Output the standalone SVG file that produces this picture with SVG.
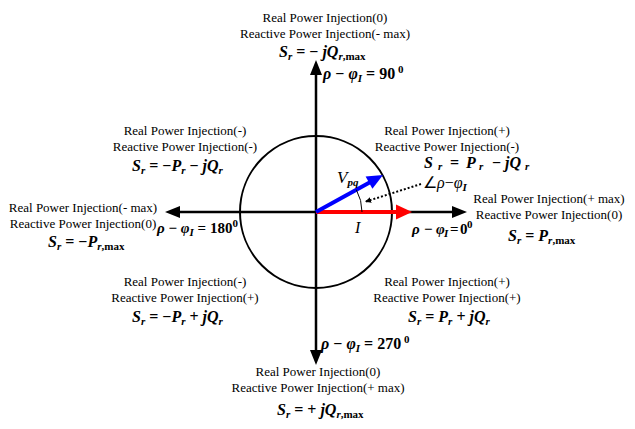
<svg xmlns="http://www.w3.org/2000/svg" width="635" height="429" viewBox="0 0 635 429">
<style>
.lbl{font-family:"Liberation Serif","Times New Roman",serif;font-size:13px;text-anchor:middle;fill:#000}
.eq{font-family:"Liberation Serif","Times New Roman",serif;font-size:16px;font-weight:bold;fill:#000}
.it{font-style:italic}
.sub{font-size:11px}
.axis{stroke:#000;stroke-width:2.5;fill:none}
</style>
<defs>
<marker id="ah" markerWidth="6" markerHeight="6" refX="5" refY="3" orient="auto" markerUnits="userSpaceOnUse">
<path d="M0,0 L6,3 L0,6 Z" fill="#000"/>
</marker>
</defs>
<rect width="635" height="429" fill="#fff"/>
<g id="connectors">
<line class="axis" x1="316" y1="74" x2="316" y2="351"/>
<polygon points="316,60 310,75 322,75" fill="#000"/>
<polygon points="316,365 310,350 322,350" fill="#000"/>
<line class="axis" x1="179" y1="212" x2="453" y2="212"/>
<polygon points="165,212 180,206 180,218" fill="#000"/>
<polygon points="467,212 452,206 452,218" fill="#000"/>
<circle cx="316" cy="212" r="76" fill="none" stroke="#000" stroke-width="2"/>
<line x1="316" y1="212" x2="398" y2="212" stroke="#f00" stroke-width="4"/>
<polygon points="396,204.5 412,212 396,219.5" fill="#f00"/>
<line x1="316" y1="212" x2="370" y2="182.2" stroke="#00f" stroke-width="4"/>
<polygon points="383,175 372.4,188.8 365.6,176.6" fill="#00f"/>
<path d="M362,212 A46,46 0 0 0 356.3,189.7" fill="none" stroke="#000" stroke-width="1"/>
<line x1="421" y1="184" x2="366" y2="201.5" stroke="#000" stroke-width="2" stroke-dasharray="2,2" marker-end="url(#ah)"/>
</g>
<g id="n-top">
<text class="lbl" x="325" y="22">Real Power Injection(0)</text>
<text class="lbl" x="325" y="38">Reactive Power Injection(- max)</text>
<text class="eq" x="279" y="57"><tspan class="it">S</tspan><tspan class="it sub" dy="3">r</tspan><tspan dy="-3"> = − </tspan><tspan class="it">jQ</tspan><tspan class="it sub" dy="3">r</tspan><tspan class="sub">,max</tspan></text>
<text class="eq" x="323" y="79"><tspan class="it">ρ</tspan> − <tspan class="it">φ</tspan><tspan class="it sub" dy="3">I</tspan><tspan dy="-3"> = 90</tspan><tspan class="sub" dy="-6"> 0</tspan></text>
</g>
<g id="n-upper-left">
<text class="lbl" x="185" y="135">Real Power Injection(-)</text>
<text class="lbl" x="185" y="151">Reactive Power Injection(-)</text>
<text class="eq" x="132" y="171"><tspan class="it">S</tspan><tspan class="it sub" dy="3">r</tspan><tspan dy="-3"> = −</tspan><tspan class="it">P</tspan><tspan class="it sub" dy="3">r</tspan><tspan dy="-3"> − </tspan><tspan class="it">jQ</tspan><tspan class="it sub" dy="3">r</tspan></text>
</g>
<g id="n-upper-right">
<text class="lbl" x="447" y="135">Real Power Injection(+)</text>
<text class="lbl" x="447" y="151">Reactive Power Injection(-)</text>
<text class="eq" y="168"><tspan class="it" x="424">S</tspan><tspan class="it sub" x="438" y="170">r</tspan><tspan x="450" y="168">=</tspan><tspan class="it" x="466">P</tspan><tspan class="it sub" x="479" y="170">r</tspan><tspan x="492" y="168">−</tspan><tspan class="it" x="505">jQ</tspan><tspan class="it sub" x="525" y="170">r</tspan></text>
</g>
<g id="n-angle">
<text class="eq it" x="337" y="183" style="font-weight:normal;font-size:17px">V<tspan style="font-weight:bold;font-size:11px" dy="3">pq</tspan></text>
<text class="eq" x="423" y="188" style="font-weight:normal">∠<tspan class="it">ρ</tspan>−<tspan class="it">φ</tspan><tspan class="it sub" dy="3" style="font-weight:bold">I</tspan></text>
<text class="eq it" x="355" y="233" style="font-weight:normal">I</text>
</g>
<g id="n-right">
<text class="lbl" x="549" y="203">Real Power Injection(+ max)</text>
<text class="lbl" x="549" y="219">Reactive Power Injection(0)</text>
<text class="eq" x="508" y="241"><tspan class="it">S</tspan><tspan class="it sub" dy="3">r</tspan><tspan dy="-3"> = </tspan><tspan class="it">P</tspan><tspan class="it sub" dy="3">r</tspan><tspan class="sub">,max</tspan></text>
<text class="eq" y="234" style="font-size:15px"><tspan class="it" x="412">ρ</tspan><tspan x="424">−</tspan><tspan class="it" x="436">φ</tspan><tspan class="it sub" x="444" y="237">I</tspan><tspan x="450" y="234">=</tspan><tspan x="460">0</tspan><tspan class="sub" x="467" y="228">0</tspan></text>
</g>
<g id="n-left">
<text class="lbl" x="83" y="212">Real Power Injection(- max)</text>
<text class="lbl" x="83" y="228">Reactive Power Injection(0)</text>
<text class="eq" x="48" y="247"><tspan class="it">S</tspan><tspan class="it sub" dy="3">r</tspan><tspan dy="-3"> = −</tspan><tspan class="it">P</tspan><tspan class="it sub" dy="3">r</tspan><tspan class="sub">,max</tspan></text>
<text class="eq" x="157" y="233" style="font-size:15px"><tspan class="it">ρ</tspan> − <tspan class="it">φ</tspan><tspan class="it sub" dy="3">I</tspan><tspan dy="-3"> = 180</tspan><tspan class="sub" dy="-6">0</tspan></text>
</g>
<g id="n-lower-left">
<text class="lbl" x="185" y="286">Real Power Injection(-)</text>
<text class="lbl" x="185" y="302">Reactive Power Injection(+)</text>
<text class="eq" x="132" y="322"><tspan class="it">S</tspan><tspan class="it sub" dy="3">r</tspan><tspan dy="-3"> = −</tspan><tspan class="it">P</tspan><tspan class="it sub" dy="3">r</tspan><tspan dy="-3"> + </tspan><tspan class="it">jQ</tspan><tspan class="it sub" dy="3">r</tspan></text>
</g>
<g id="n-lower-right">
<text class="lbl" x="447" y="286">Real Power Injection(+)</text>
<text class="lbl" x="447" y="302">Reactive Power Injection(+)</text>
<text class="eq" x="408" y="322"><tspan class="it">S</tspan><tspan class="it sub" dy="3">r</tspan><tspan dy="-3"> = </tspan><tspan class="it">P</tspan><tspan class="it sub" dy="3">r</tspan><tspan dy="-3"> + </tspan><tspan class="it">jQ</tspan><tspan class="it sub" dy="3">r</tspan></text>
</g>
<g id="n-bottom">
<text class="eq" x="321" y="349"><tspan class="it">ρ</tspan> − <tspan class="it">φ</tspan><tspan class="it sub" dy="3">I</tspan><tspan dy="-3"> = 270</tspan><tspan class="sub" dy="-6"> 0</tspan></text>
<text class="lbl" x="318" y="376">Real Power Injection(0)</text>
<text class="lbl" x="318" y="392">Reactive Power Injection(+ max)</text>
<text class="eq" x="277" y="415"><tspan class="it">S</tspan><tspan class="it sub" dy="3">r</tspan><tspan dy="-3"> = + </tspan><tspan class="it">jQ</tspan><tspan class="it sub" dy="3">r</tspan><tspan class="sub">,max</tspan></text>
</g>
</svg>
